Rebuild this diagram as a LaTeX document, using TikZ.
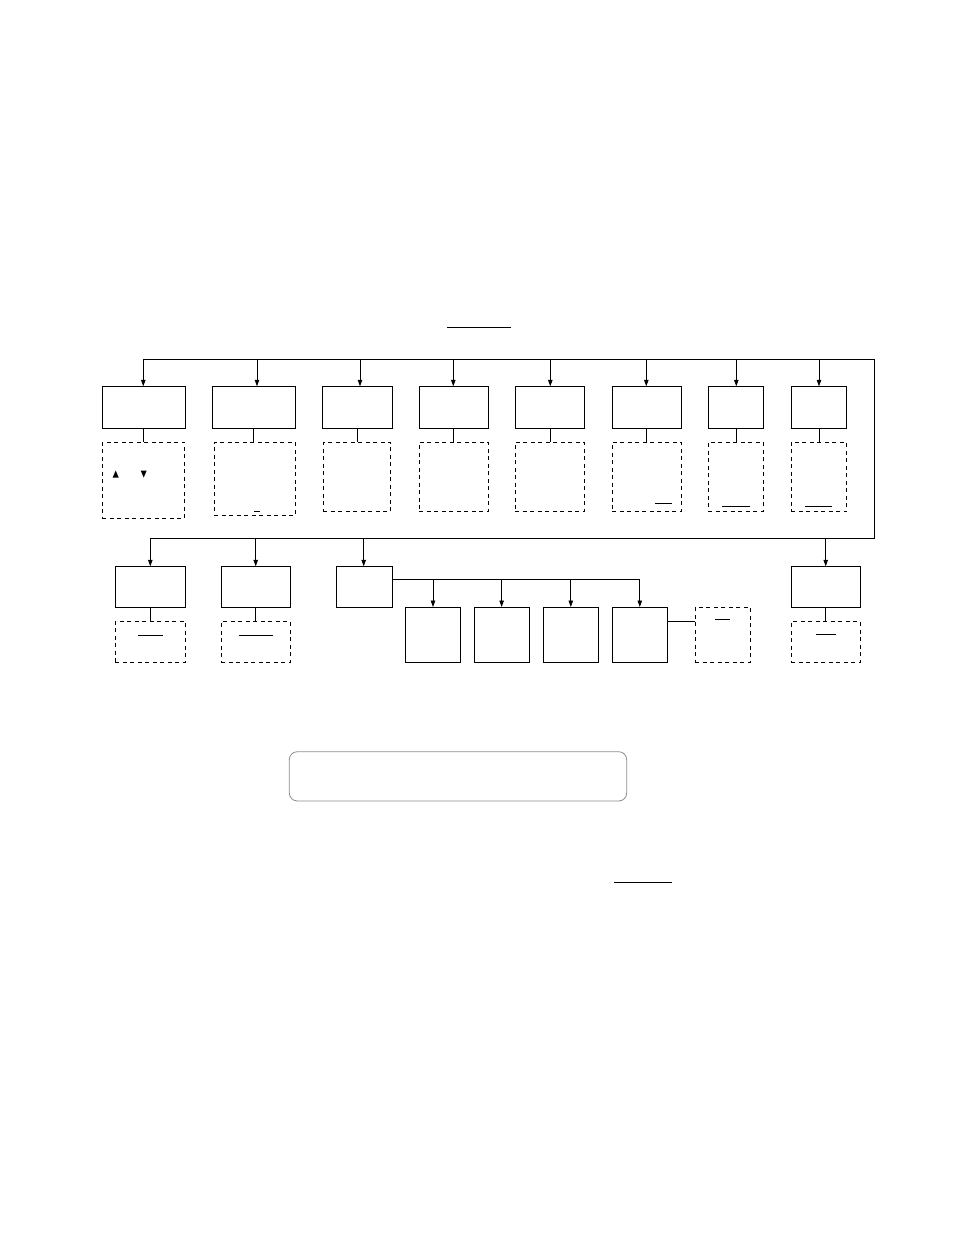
\documentclass[tikz,border=0pt]{standalone}
\usetikzlibrary{arrows.meta,fit}
\begin{document}
\begin{tikzpicture}[x=1bp,y=-1bp,
  line width=0.8bp,
  box/.style={draw,inner sep=0pt,outer sep=0pt},
  dbox/.style={draw,dash pattern=on 4bp off 3.5bp,inner sep=0pt,outer sep=0pt},
  arr/.style={-{Triangle[length=6.5bp,width=4.5bp]}},
  uline/.style={line width=0.8bp},
  note/.style={draw=black!45,rounded corners=8bp,line width=0.8bp,inner sep=0pt,outer sep=0pt}]
\useasboundingbox (0,0) rectangle (954,1235);

% title underline
\draw[uline] (447,327) -- (511,327);

% buses
\coordinate (busL) at (143.3,359.3);
\coordinate (busR) at (874,359.3);
\coordinate (bus2R) at (874,538.3);
\coordinate (bus2L) at (150.3,538.3);
\draw (busL) -- (busR) -- (bus2R) -- (bus2L);

% top row boxes
\node[box,fit={(102.3,386.3) (185.3,428)}] (t1) {};
\node[box,fit={(212.3,386.3) (295.3,428)}] (t2) {};
\node[box,fit={(322.3,386.3) (392.3,428)}] (t3) {};
\node[box,fit={(419.3,386.3) (488.3,428)}] (t4) {};
\node[box,fit={(515.3,386.3) (584.3,428)}] (t5) {};
\node[box,fit={(612.3,386.3) (681.3,428)}] (t6) {};
\node[box,fit={(708.3,386.3) (763.3,428)}] (t7) {};
\node[box,fit={(791,386.3) (846.7,428)}] (t8) {};

% top row dashed boxes
\node[dbox,fit={(102.3,442.3) (184.7,518.3)}] (d1) {};
\node[dbox,fit={(214.3,442.3) (295.3,515.3)}] (d2) {};
\node[dbox,fit={(323.3,442.3) (390.7,511.3)}] (d3) {};
\node[dbox,fit={(419.3,442.3) (488.3,511.3)}] (d4) {};
\node[dbox,fit={(515.3,442.3) (584.3,511.3)}] (d5) {};
\node[dbox,fit={(612.3,442.3) (681.3,511.3)}] (d6) {};
\node[dbox,fit={(708.3,442.3) (763.3,511.3)}] (d7) {};
\node[dbox,fit={(791,442.3) (846.7,511.3)}] (d8) {};

% arrows from top bus
\foreach \x/\n in {143.3/1,257/2,360/3,453.3/4,550.3/5,646.3/6,736.3/7,819/8}{
  \coordinate (a\n) at (\x,359.3);
  \draw[arr] (a\n) -- (a\n |- t\n.north);
}
% connectors box -> dashed box
\foreach \x/\n in {143.3/1,253.3/2,357.3/3,453.3/4,550.3/5,646.3/6,736.3/7,819/8}{
  \coordinate (c\n) at (\x,428);
  \draw (c\n) -- (c\n |- d\n.north);
}

% marks inside dashed boxes
\fill (112.7,477.5) -- (118.7,477.5) -- (115.7,470.5) -- cycle;
\fill (140.7,470.5) -- (146.7,470.5) -- (143.7,477.5) -- cycle;
\draw[uline] (254.3,511.3) -- (260,511.3);
\draw[uline] (655,503.3) -- (671.7,503.3);
\draw[uline] (722,506) -- (749.7,506);
\draw[uline] (805,506) -- (831.7,506);

% bottom row boxes
\node[box,fit={(115.3,566.3) (185.7,607)}] (b1) {};
\node[box,fit={(221.3,566.3) (290.3,607)}] (b2) {};
\node[box,fit={(336.3,566.3) (392.3,607)}] (b3) {};
\node[box,fit={(791.3,566.3) (860.3,607)}] (b4) {};

\node[dbox,fit={(115.3,621.7) (185.7,662)}] (e1) {};
\node[dbox,fit={(221.3,621.7) (290.3,662)}] (e2) {};
\node[dbox,fit={(791.3,621.7) (860.3,662)}] (e4) {};

\foreach \x/\n in {150.3/1,255.7/2,363.7/3,825.7/4}{
  \coordinate (ba\n) at (\x,538.3);
  \draw[arr] (ba\n) -- (ba\n |- b\n.north);
}
\foreach \n in {1,2,4}{
  \draw (b\n.south) -- (e\n.north);
}
\draw[uline] (138.3,635) -- (162.7,635);
\draw[uline] (239,635) -- (272.7,635);
\draw[uline] (816,634.7) -- (836,634.7);

% sub boxes under b3
\node[box,fit={(405.7,607) (460.3,662)}] (s1) {};
\node[box,fit={(474.3,607) (529,662)}] (s2) {};
\node[box,fit={(543.3,607) (598.3,662)}] (s3) {};
\node[box,fit={(612.3,607) (667.3,662)}] (s4) {};
\node[dbox,fit={(695.3,607) (750.3,662)}] (ds) {};

\coordinate (sb) at (392.3,579);
\coordinate (sbR) at (640,579);
\draw (sb) -- (sbR);
\foreach \n in {1,2,3,4}{
  \draw[arr] (s\n.north |- sb) -- (s\n.north);
}
\coordinate (sc) at (667.3,621.3);
\draw (sc) -- (sc -| ds.west);
\draw[uline] (715,619.3) -- (730,619.3);

% rounded note box
\node[note,fit={(289.3,751.7) (626.7,801)}] (nb) {};

% bottom underline
\draw[uline] (614,882.3) -- (671.7,882.3);
\end{tikzpicture}
\end{document}
